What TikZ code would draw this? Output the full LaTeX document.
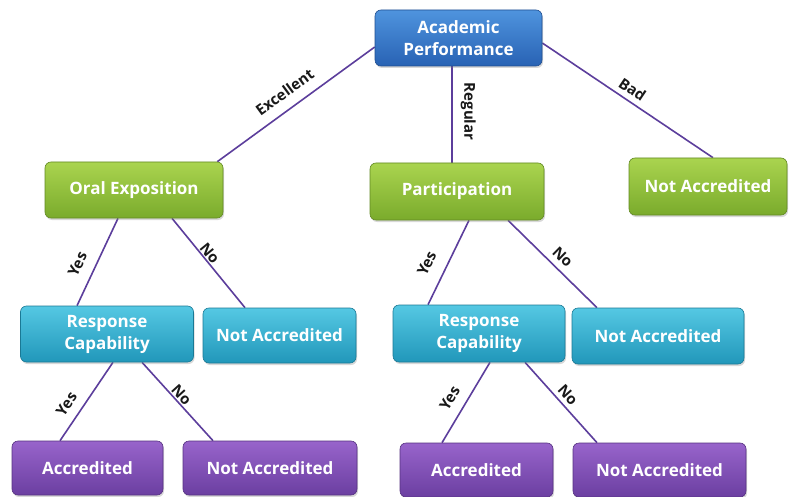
\documentclass[tikz,border=0pt]{standalone}
\usepackage{fontspec}
\setsansfont{Open Sans}
\usetikzlibrary{shadows,backgrounds}

\definecolor{blueTop}{HTML}{4F94DE}
\definecolor{blueBot}{HTML}{2862B4}
\definecolor{greenTop}{HTML}{AAD44F}
\definecolor{greenBot}{HTML}{7AAB2C}
\definecolor{cyanTop}{HTML}{55C8E3}
\definecolor{cyanBot}{HTML}{2197BA}
\definecolor{purpleTop}{HTML}{9864CB}
\definecolor{purpleBot}{HTML}{6B3FA1}
\definecolor{branchLine}{HTML}{5C3E9C}

\newcommand*{\tilefont}{\sffamily\bfseries\fontsize{17}{22}\selectfont}
\newcommand*{\answerfont}{\sffamily\bfseries\fontsize{15}{17}\selectfont}

\tikzset{
  tile/.style 2 args={rectangle, rounded corners=6pt, draw=#2!80!black, line width=0.6pt,
    top color=#1, bottom color=#2, text=white, font=\tilefont, align=center, inner sep=2pt,
    drop shadow={shadow xshift=1pt, shadow yshift=-2pt, opacity=0.3}},
  bluetile/.style={tile={blueTop}{blueBot}},
  greentile/.style={tile={greenTop}{greenBot}},
  cyantile/.style={tile={cyanTop}{cyanBot}},
  purpletile/.style={tile={purpleTop}{purpleBot}},
  box size/.style 2 args={minimum width=#1pt, minimum height=#2pt},
  branch/.style={draw=branchLine, line width=1.6pt},
  answer/.style={font=\answerfont, text=black!90, sloped, inner sep=1pt},
}

\begin{document}
\begin{tikzpicture}[x=1pt, y=-1pt]
  \useasboundingbox (0,0) rectangle (794,497);

  % root and first split
  \node[bluetile, box size={167}{56}] (acad) at (458.5,38) {Academic\\Performance};
  \node[greentile, box size={178}{56}] (oral) at (134,190) {Oral Exposition};
  \node[greentile, box size={174}{57}] (part) at (457,191.5) {Participation};
  \node[greentile, box size={158}{57}] (bad) at (708,186.5) {Not Accredited};

  % second split
  \node[cyantile, box size={173}{56}] (resp1) at (107,334) {Response\\Capability};
  \node[cyantile, box size={153}{55}] (na1) at (279.5,335.5) {Not Accredited};
  \node[cyantile, box size={172}{57}] (resp2) at (479,333.5) {Response\\Capability};
  \node[cyantile, box size={172}{56}] (na2) at (658,336) {Not Accredited};

  % leaves
  \node[purpletile, box size={151}{54}] (acc1) at (87.5,468) {Accredited};
  \node[purpletile, box size={174}{54}] (na3) at (270,468) {Not Accredited};
  \node[purpletile, box size={153}{54}] (acc2) at (476.5,470) {Accredited};
  \node[purpletile, box size={173}{54}] (na4) at (659.5,470) {Not Accredited};

  \begin{pgfonlayer}{background}
    \fill[white] (0,0) rectangle (794,497);
    \draw[branch] ([xshift=-6pt]oral.north east) -- node[answer, pos=0.49, above=9pt] {Excellent} ([yshift=-9pt]acad.west);
    \draw[branch] ([xshift=-6.5pt]acad.south) -- node[answer, pos=0.47, above=7pt] {Regular} ([xshift=-5pt]part.north);
    \draw[branch] ([yshift=-5pt]acad.east) -- node[answer, pos=0.49, above=4pt] {Bad} ([xshift=5pt]bad.north);
    \foreach \from/\fx/\to/\tx/\word/\p/\gap in {
        oral/-16pt/resp1/-30pt/Yes/0.61/10pt, oral/38pt/na1/-34.5pt/No/0.44/0pt,
        part/12pt/resp2/-51pt/Yes/0.61/12pt, part/51pt/na2/-61pt/No/0.52/5pt,
        resp1/6pt/acc1/-27.5pt/Yes/0.64/8pt, resp1/35pt/na3/-57pt/No/0.48/0pt,
        resp2/11pt/acc2/-34.5pt/Yes/0.55/9pt, resp2/46pt/na4/-62.5pt/No/0.49/3pt} {
      \draw[branch] ([xshift=\fx]\from.south) -- node[answer, pos=\p, above=\gap] {\word} ([xshift=\tx]\to.north);
    }
  \end{pgfonlayer}
\end{tikzpicture}
\end{document}
